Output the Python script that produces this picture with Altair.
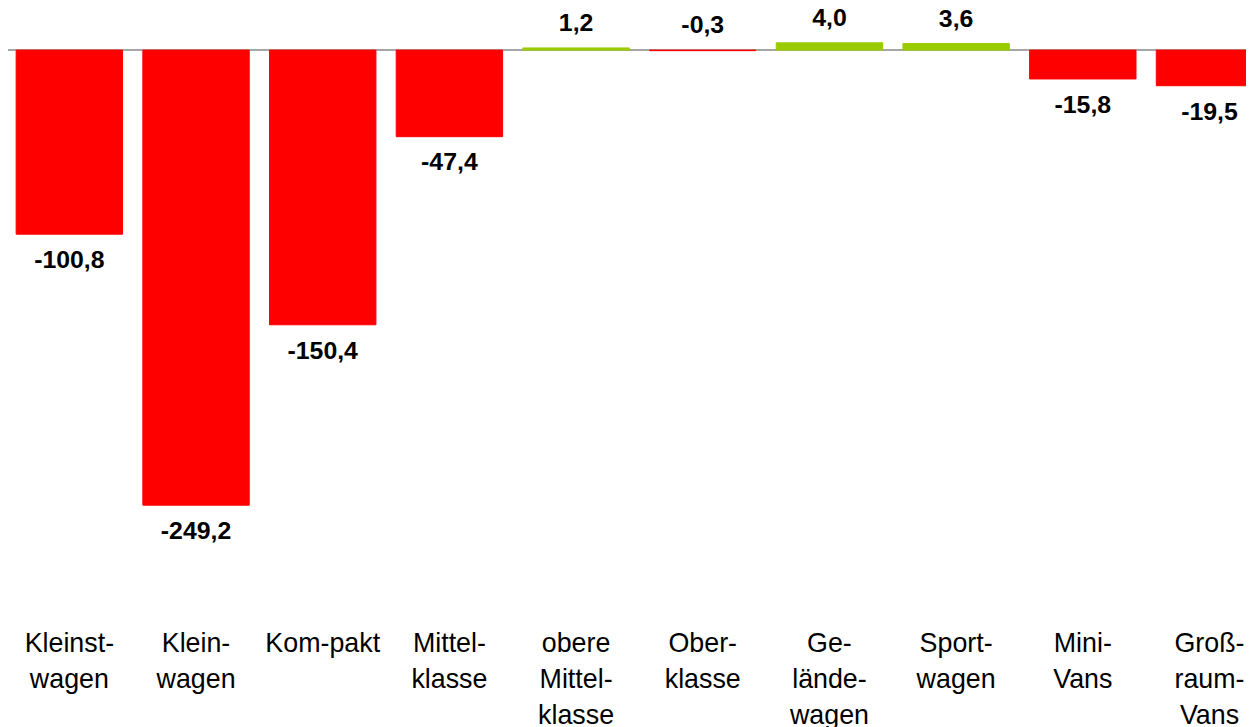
import altair as alt
import pandas as pd

categories = ["Kleinst-\nwagen", "Klein-\nwagen", "Kom-pakt", "Mittel-\nklasse",
              "obere\nMittel-\nklasse", "Ober-\nklasse", "Ge-\nlände-\nwagen",
              "Sport-\nwagen", "Mini-\nVans", "Groß-\nraum-\nVans"]
values = [-100.8, -249.2, -150.4, -47.4, 1.2, -0.3, 4.0, 3.6, -15.8, -19.5]

df = pd.DataFrame({"cat": categories, "v": values})
df["lab"] = [("%.1f" % v).replace(".", ",") for v in values]
df["sign"] = ["pos" if v >= 0 else "neg" for v in values]
df["ypos"] = [max(v, 0) for v in values]

FONT = "Liberation Sans"

x = alt.X("cat:N", sort=categories, title=None,
          scale=alt.Scale(range=[-2, 1273], paddingInner=0.16, paddingOuter=0.08),
          axis=None)
yscale = alt.Scale(domain=[-300.3, 21.8], nice=False, zero=False)
cscale = alt.Scale(domain=["pos", "neg"], range=["#99CC00", "#FF0000"])

base = alt.Chart(df)

rule = base.mark_rule(color="#A6A6A6", strokeWidth=2).encode(
    y=alt.Y("zero:Q", scale=yscale, axis=None)
).transform_calculate(zero="0")

bars = base.mark_bar(strokeWidth=1).encode(
    x=x,
    y=alt.Y("v:Q", scale=yscale, axis=None),
    color=alt.Color("sign:N", scale=cscale, legend=None),
    stroke=alt.Stroke("sign:N", scale=cscale, legend=None),
)

above = base.transform_filter("datum.v > -1").mark_text(
    font=FONT, fontSize=25, fontWeight="bold", color="#000000",
    baseline="alphabetic", dy=-17).encode(
    x=x, y=alt.Y("ypos:Q", scale=yscale, axis=None), text="lab:N")

below = base.transform_filter("datum.v <= -1").mark_text(
    font=FONT, fontSize=25, fontWeight="bold", color="#000000",
    baseline="alphabetic", dy=34).encode(
    x=x, y=alt.Y("v:Q", scale=yscale, axis=None), text="lab:N")

cats = base.mark_text(
    font=FONT, fontSize=27, color="#000000", baseline="alphabetic",
    lineBreak="\n", lineHeight=36).encode(
    x=x, y=alt.value(646), text="cat:N")

chart = alt.layer(rule, bars, above, below, cats).properties(
    width=1246, height=592,
    autosize=alt.AutoSizeParams(type="none"),
    padding={"left": 0, "top": 0, "right": 0, "bottom": 127},
).configure_view(stroke=None)

chart.save("out.html", embed_options={"renderer": "svg", "actions": False})
